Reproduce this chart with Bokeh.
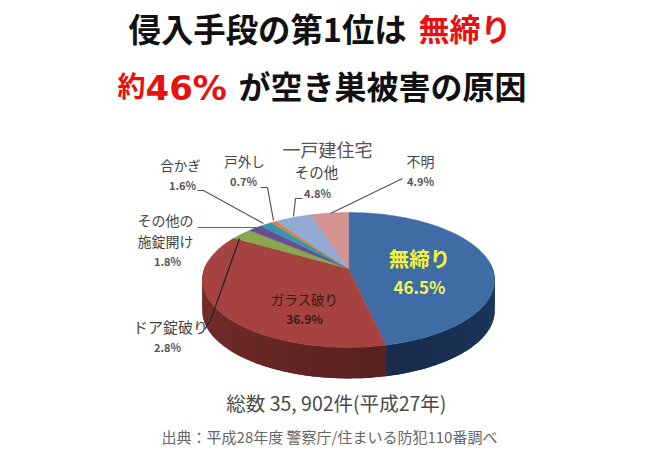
import numpy as np
from bokeh.plotting import figure
from bokeh.embed import file_html
from bokeh.resources import INLINE
from bokeh.models import Range1d
from bokeh.core.properties import value

categories = ["無締り", "ガラス破り", "ドア錠破り", "その他の施錠開け", "合かぎ", "戸外し", "一戸建住宅その他", "不明"]
shares = [46.5, 36.9, 2.8, 1.8, 1.6, 0.7, 4.8, 4.9]
top_colors = ["#406ca5", "#a6423f", "#87a84c", "#6a4c93", "#3a96b0", "#d9853f", "#93abd3", "#d39491"]
wall_colors = [((30, 58, 98), (24, 44, 76)), ((125, 48, 45), (88, 34, 32))] + [((90, 90, 90), (90, 90, 90))] * 6

FONT = "Noto Sans CJK JP"
W, H = 640, 449
p = figure(width=W, height=H, output_backend="svg", toolbar_location=None,
           x_range=Range1d(0, W), y_range=Range1d(H, 0),
           min_border=0, outline_line_color=None, background_fill_color="white")
p.axis.visible = False
p.grid.visible = False

# pie geometry in reference pixels, with a perspective tilt
CX, CY, B, A, K, DEPTH = 348.0, 268.0, 144.0, 65.5, 0.17, 31.0

def rim(theta):
    u, v = np.sin(theta), np.cos(theta)
    s = 1 + K * v
    return CX + B * u / s, CY - A * v / s

edges = np.concatenate([[0], np.cumsum(shares)]) / 100 * 2 * np.pi

# side wall: visible on the front half only
for i in range(2):
    lo, hi = edges[i], edges[i + 1]
    lo2, hi2 = max(lo, np.pi / 2 - 0.1), min(hi, 3 * np.pi / 2 + 0.1)
    cuts = np.linspace(lo2, hi2, 41)
    c0, c1 = np.array(wall_colors[i][0]), np.array(wall_colors[i][1])
    order = range(40) if i == 0 else range(39, -1, -1)
    for j in order:
        a = cuts[max(j - 1, 0)] if i == 1 else cuts[j]
        b = cuts[min(j + 2, 40)] if i == 0 else cuts[j + 1]
        t = np.linspace(a, b, 5)
        x, y = rim(t)
        xs = np.concatenate([x, x[::-1]])
        ys = np.concatenate([y, y[::-1] + DEPTH])
        f = (j / 39) if i == 0 else (1 - j / 39)
        col = tuple(int(q) for q in c0 + (c1 - c0) * f)
        col = "#%02x%02x%02x" % col
        p.patch(xs, ys, fill_color=col, line_color=None)

# top face
for i, c in enumerate(top_colors):
    t = np.linspace(edges[i], edges[i + 1], 80)
    x, y = rim(t)
    p.patch(np.concatenate([[CX], x]), np.concatenate([[CY], y]),
            fill_color=c, line_color=c, line_width=0.5)

# leader lines
leaders = [
    ([197, 203, 263], [190, 190, 223], "#555555"),
    ([260, 267, 273], [187, 187, 220], "#555555"),
    ([302, 295, 293], [198, 198, 216], "#555555"),
    ([330, 402], [213, 178], "#555555"),
    ([197, 260], [227, 227], "#666666"),
    ([239, 210, 204], [238, 320, 329], "#222222"),
]
for lx, ly, lc in leaders:
    p.line(lx, ly, line_color=lc, line_width=1.2)

def put(x, y, s, size, color="#333333", bold=False, align="center", font=FONT):
    p.text([x], [y], text=[s], text_font=value(font), text_font_size=f"{size}px",
           text_color=color, text_align=align, text_baseline="middle",
           text_font_style="bold" if bold else "normal")

# title
put(128, 27, "侵入手段の第1位は", 32.4, "#111111", True, "left")
put(418, 27, "無締り", 31, "#e81010", True, "left")
put(117, 84, "約", 28, "#e81010", True, "left")
put(145, 87, "46%", 34, "#e81010", True, "left", "DejaVu Sans")
put(238, 84, "が空き巣被害の原因", 32, "#111111", True, "left")

# labels
put(327, 148, "一戸建住宅", 18, "#555555")
put(316, 171, "その他", 14.5, "#444444")
put(317, 192, "4.8%", 11, "#555555", True)
put(180, 164, "合かぎ", 13.5, "#444444")
put(182, 184, "1.6%", 11, "#555555", True)
put(244, 160, "戸外し", 13.5, "#444444")
put(243, 180, "0.7%", 11, "#555555", True)
put(420, 160, "不明", 14, "#444444")
put(420, 180, "4.9%", 11, "#555555", True)
put(165, 219, "その他の", 14, "#444444")
put(165, 240, "施錠開け", 14, "#444444")
put(167, 260, "1.8%", 11, "#555555", True)
put(170, 326, "ドア錠破り", 15, "#444444")
put(167, 346, "2.8%", 11, "#555555", True)
put(419, 257, "無締り", 20.5, "#f4f43a", True)
put(419, 286, "46.5%", 17, "#eef45a", True)
put(304, 298, "ガラス破り", 13.5, "#3a1a18")
put(304, 318, "36.9%", 12, "#3a1a18", True)
put(338, 402, "総数  35, 902件(平成27年)", 19.5, "#4a4a4a")
put(329, 436, "出典：平成28年度 警察庁/住まいる防犯110番調べ", 15, "#666666", False)

open("out.html", "w").write(file_html(p, INLINE))
